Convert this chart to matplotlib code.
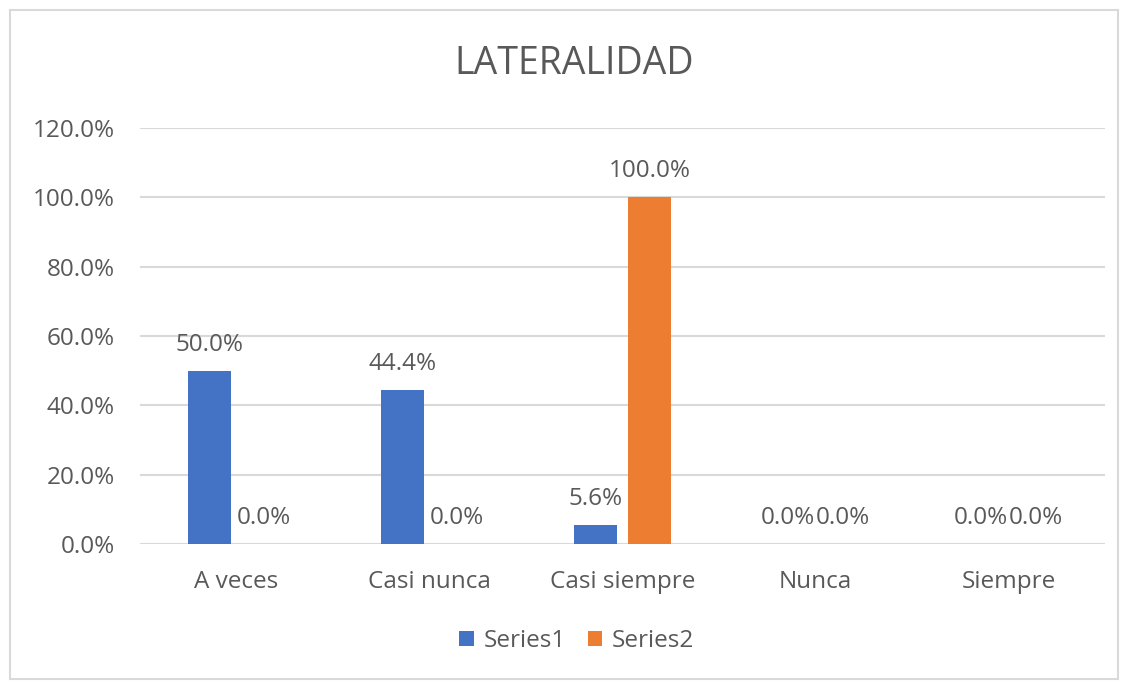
import matplotlib.pyplot as plt
from matplotlib.patches import Rectangle
import numpy as np

categories = ["A veces", "Casi nunca", "Casi siempre", "Nunca", "Siempre"]
series1 = [0.500, 0.444, 0.056, 0.0, 0.0]
series2 = [0.0, 0.0, 1.0, 0.0, 0.0]
series_names = ["Series1", "Series2"]
colors = ["#4472C4", "#ED7D31"]
y_ticks = [0.0, 0.2, 0.4, 0.6, 0.8, 1.0, 1.2]

TEXT = "#595959"
FS = 17.5
plt.rcParams['font.family'] = ['Open Sans', 'DejaVu Sans']

fig = plt.figure(figsize=(11.25, 6.82), dpi=100)
fig.patches.append(Rectangle((10 / 1125, 3 / 682), 1108 / 1125, 669 / 682,
                             transform=fig.transFigure, fill=False,
                             edgecolor="#D9D9D9", linewidth=1.5))

ax = fig.add_axes([140 / 1125, 1 - 544 / 682, 965 / 1125, 416 / 682])
x = np.arange(len(categories))
width = 0.223
offset = 0.142

for vals, dx, color, name in zip([series1, series2], [-offset, offset], colors, series_names):
    bars = ax.bar(x + dx, vals, width, color=color, label=name, zorder=3)
    for b, v in zip(bars, vals):
        ax.annotate(f"{v * 100:.1f}%", (b.get_x() + b.get_width() / 2, v),
                    xytext=(0, 10), textcoords="offset points",
                    ha="center", va="bottom", fontsize=FS, color=TEXT)

ax.set_xlim(-0.5, len(categories) - 0.5)
ax.set_ylim(0, 1.2)
ax.set_yticks(y_ticks)
ax.set_yticklabels([f"{t * 100:.1f}%" for t in y_ticks])
ax.set_xticks(x)
ax.set_xticklabels(categories)
ax.tick_params(axis="both", length=0, labelsize=FS, labelcolor=TEXT)
ax.tick_params(axis="y", pad=18)
ax.tick_params(axis="x", pad=19)
ax.grid(axis="y", color="#D9D9D9", linewidth=1.5, zorder=0)
for s in ax.spines.values():
    s.set_visible(False)

fig.text(574 / 1125, 1 - 64 / 682, "LATERALIDAD", ha="center", va="center",
         fontsize=27, color=TEXT)

ax.legend(loc="center", bbox_to_anchor=(577 / 1125, 1 - 641 / 682), bbox_transform=fig.transFigure,
          ncol=2, frameon=False, fontsize=FS, labelcolor=TEXT,
          handlelength=0.6, handleheight=0.6, handletextpad=0.4, columnspacing=0.9)

fig.savefig("out.png", dpi=100)
